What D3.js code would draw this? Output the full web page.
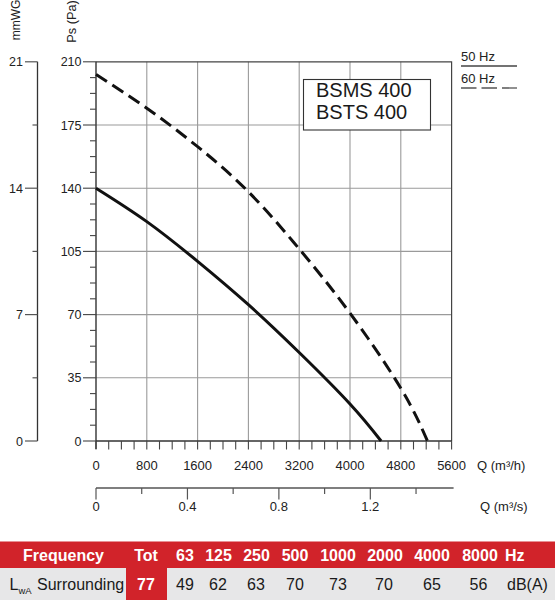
<!DOCTYPE html>
<html><head><meta charset="utf-8">
<script src="https://cdn.jsdelivr.net/npm/d3@7"></script>
<style>body{margin:0;background:#fff}svg{display:block;font-family:"Liberation Sans",Arial,sans-serif}</style>
</head><body>
<svg id="c" width="555" height="600"></svg>
<script>
// ---- data ----
const curve50Hz = [[0,140],[800,121.5],[1600,99.5],[2400,75.5],[3200,49],[4000,20.5],[4490,0]];
const curve60Hz = [[0,203],[800,184.3],[1600,163],[2400,138],[3200,106.4],[4000,70.8],[4800,29.2],[5220,0]];
const qTicksM3h = [0,800,1600,2400,3200,4000,4800,5600];
const qTicksM3s = [0,0.4,0.8,1.2];
const psTicks = [0,35,70,105,140,175,210];
const mmTicks = [0,7,14,21];
const modelNames = ["BSMS 400","BSTS 400"];
const legendLabels = ["50 Hz","60 Hz"];
const freqHeader = ["Tot","63","125","250","500","1000","2000","4000","8000"];
const lwaValues = [77,49,62,63,70,73,70,65,56];

const svg = d3.select("#c");
const X0=96, X1=451.6, Y0=441, Y1=61.8;
const x = d3.scaleLinear().domain([0,5600]).range([X0,X1]);
const xs = d3.scaleLinear().domain([0,5600/3600]).range([X0,X1]);
const y = d3.scaleLinear().domain([0,210]).range([Y0,Y1]);
const ymm = d3.scaleLinear().domain([0,21]).range([Y0,Y1]);
const txt = "#222";

// grid
const g = svg.append("g");
g.selectAll(".vg").data(qTicksM3h.slice(1,-1)).join("line")
  .attr("x1",d=>x(d)).attr("x2",d=>x(d)).attr("y1",Y0).attr("y2",Y1)
  .attr("stroke","#9a9a9a").attr("stroke-width",1.1);
g.selectAll(".hg").data(psTicks.slice(1,-1)).join("line")
  .attr("x1",X0).attr("x2",X1).attr("y1",d=>y(d)).attr("y2",d=>y(d))
  .attr("stroke","#9a9a9a").attr("stroke-width",1.1);
svg.append("path").attr("d",`M${X0},${Y1}H${X1}V${Y0}`).attr("fill","none").attr("stroke","#444").attr("stroke-width",1.2);

// Ps axis
const psAll = d3.range(0,210.01,8.75);
svg.append("line").attr("x1",X0).attr("x2",X0).attr("y1",Y1).attr("y2",Y0+8).attr("stroke","#333").attr("stroke-width",1.4);
svg.selectAll(".pst").data(psAll).join("line")
  .attr("x1",d=>d%35===0?83:90).attr("x2",X0).attr("y1",d=>y(d)).attr("y2",d=>y(d))
  .attr("stroke","#444").attr("stroke-width",1.1);
svg.selectAll(".psl").data(psTicks).join("text")
  .attr("x",81.5).attr("y",d=>y(d)+4.5).attr("text-anchor","end").attr("font-size",12.5).attr("fill",txt).text(d=>d);
svg.append("text").attr("transform","translate(75.5,21.5) rotate(-90)").attr("text-anchor","middle").attr("font-size",12.8).attr("fill",txt).text("Ps (Pa)");

// mmWG axis
const MX=37.5;
svg.append("line").attr("x1",MX).attr("x2",MX).attr("y1",Y1).attr("y2",Y0).attr("stroke","#333").attr("stroke-width",1.3);
svg.selectAll(".mmt").data(d3.range(0,21.01,3.5)).join("line")
  .attr("x1",d=>d%7===0?25:32.5).attr("x2",MX).attr("y1",d=>ymm(d)).attr("y2",d=>ymm(d))
  .attr("stroke","#555").attr("stroke-width",1.2);
svg.selectAll(".mml").data(mmTicks).join("text")
  .attr("x",23).attr("y",d=>ymm(d)+4.5).attr("text-anchor","end").attr("font-size",12.5).attr("fill",txt).text(d=>d);
svg.append("text").attr("transform","translate(20,20) rotate(-90)").attr("text-anchor","middle").attr("font-size",12).attr("fill",txt).text("mmWG");

// Q m3/h axis
svg.append("line").attr("x1",X0).attr("x2",X1).attr("y1",Y0).attr("y2",Y0).attr("stroke","#333").attr("stroke-width",1.3);
svg.selectAll(".qt").data(d3.range(0,5600.1,200)).join("line")
  .attr("x1",d=>x(d)).attr("x2",d=>x(d)).attr("y1",Y0).attr("y2",Y0+8.5)
  .attr("stroke","#444").attr("stroke-width",1.1);
svg.selectAll(".ql").data(qTicksM3h).join("text")
  .attr("x",d=>x(d)).attr("y",470).attr("text-anchor","middle").attr("font-size",13).attr("fill",txt).text(d=>d);
svg.append("text").attr("x",477).attr("y",470).attr("font-size",13).attr("fill",txt).text("Q (m³/h)");

// Q m3/s axis
const SY=488;
svg.append("line").attr("x1",X0).attr("x2",X1+2).attr("y1",SY).attr("y2",SY).attr("stroke","#555").attr("stroke-width",1.3);
svg.selectAll(".st").data(d3.range(0,1.41,0.2)).join("line")
  .attr("x1",d=>xs(d)).attr("x2",d=>xs(d)).attr("y1",SY)
  .attr("y2",d=>Math.abs(Math.round(d*10)%4)===0?SY+11.5:SY+6)
  .attr("stroke","#555").attr("stroke-width",1.2);
svg.selectAll(".sl").data(qTicksM3s).join("text")
  .attr("x",d=>xs(d)).attr("y",511).attr("text-anchor","middle").attr("font-size",13).attr("fill",txt).text(d=>d);
svg.append("text").attr("x",480).attr("y",511).attr("font-size",13).attr("fill",txt).text("Q (m³/s)");

// curves
const line = d3.line().x(d=>x(d[0])).y(d=>y(d[1])).curve(d3.curveNatural);
svg.append("path").datum(curve50Hz).attr("d",line).attr("fill","none").attr("stroke","#111").attr("stroke-width",3);
svg.append("path").datum(curve60Hz).attr("d",line).attr("fill","none").attr("stroke","#111").attr("stroke-width",3).attr("stroke-dasharray","13,6.5");

// model box
svg.append("rect").attr("x",303.5).attr("y",79.5).attr("width",127).attr("height",50.5).attr("fill","#fff").attr("stroke","#333").attr("stroke-width",1.1);
svg.selectAll(".mn").data(modelNames).join("text")
  .attr("x",316).attr("y",(d,i)=>97+i*21.5).attr("font-size",20).attr("fill","#1a1a1a").text(d=>d);

// legend
svg.selectAll(".lg").data(legendLabels).join("text")
  .attr("x",461).attr("y",(d,i)=>60.5+i*22).attr("font-size",13).attr("fill",txt).text(d=>d);
svg.append("line").attr("x1",461).attr("x2",517).attr("y1",66).attr("y2",66).attr("stroke","#444").attr("stroke-width",1.3);
svg.append("line").attr("x1",461).attr("x2",517).attr("y1",88).attr("y2",88).attr("stroke","#555").attr("stroke-width",1.3).attr("stroke-dasharray","15.5,5");

// table
const red="#d1232a";
const colX=[146,185,218.5,256.5,295,338,385,432,480];
const valX=[146,185,218,256,295,338,384,432,478.5];
svg.append("rect").attr("x",0).attr("y",541.5).attr("width",555).attr("height",26.5).attr("fill",red);
svg.append("rect").attr("x",0).attr("y",568).attr("width",555).attr("height",32).attr("fill","#e7e7e8");
svg.append("rect").attr("x",126).attr("y",568).attr("width",41).attr("height",32).attr("fill",red);
svg.append("text").attr("x",63.5).attr("y",560.5).attr("text-anchor","middle").attr("font-size",16).attr("font-weight","bold").attr("fill","#fff").text("Frequency");
svg.selectAll(".fh").data(freqHeader).join("text")
  .attr("x",(d,i)=>colX[i]).attr("y",561).attr("text-anchor","middle").attr("font-size",16).attr("font-weight","bold").attr("fill","#fff").text(d=>d);
svg.append("text").attr("x",505).attr("y",561).attr("font-size",16).attr("font-weight","bold").attr("fill","#fff").text("Hz");
const lt = svg.append("text").attr("x",9.5).attr("y",589.5).attr("font-size",16).attr("fill","#1a1a1a");
lt.append("tspan").text("L");
lt.append("tspan").attr("font-size",9.5).attr("dy",4).text("wA");
svg.append("text").attr("x",37).attr("y",589.5).attr("font-size",16).attr("fill","#1a1a1a").text("Surrounding");
svg.selectAll(".lv").data(lwaValues).join("text")
  .attr("x",(d,i)=>valX[i]).attr("y",589.5).attr("text-anchor","middle").attr("font-size",16)
  .attr("font-weight",(d,i)=>i===0?"bold":"normal").attr("fill",(d,i)=>i===0?"#fff":"#1a1a1a").text(d=>d);
svg.append("text").attr("x",507).attr("y",589.5).attr("font-size",16).attr("fill","#1a1a1a").text("dB(A)");
</script>
</body></html>
